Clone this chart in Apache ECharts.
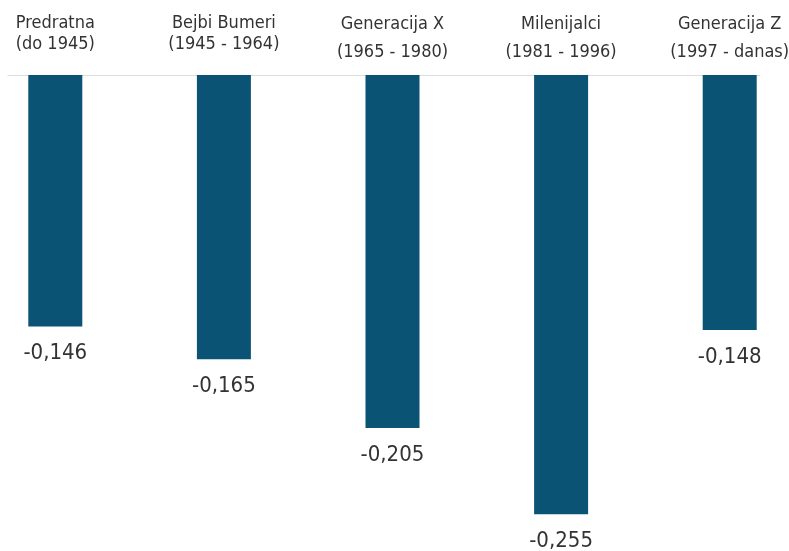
<!DOCTYPE html>
<html>
<head>
<meta charset="utf-8">
<script src="https://cdn.jsdelivr.net/npm/echarts@6/dist/echarts.min.js"></script>
<style>html,body{margin:0;padding:0;background:#fff}#c{width:789px;height:551px}</style>
</head>
<body>
<div id="c"></div>
<script>
const categories = ['Predratna\n(do 1945)', 'Bejbi Bumeri\n(1945 - 1964)', 'Generacija X\n(1965 - 1980)', 'Milenijalci\n(1981 - 1996)', 'Generacija Z\n(1997 - danas)'];
const values = [-0.146, -0.165, -0.205, -0.255, -0.148];
const labelLineHeights = [21, 21, 28, 28, 28];

const FONT = "'DejaVu Sans Condensed', 'Liberation Sans Narrow', sans-serif";
const chart = echarts.init(document.getElementById('c'), null, {renderer: 'canvas'});
chart.setOption({
  animation: false,
  backgroundColor: '#ffffff',
  grid: [
    {left: -29, right: -25, top: 75, bottom: 11, containLabel: false, outerBoundsMode: 'none'},
    {left: 8, right: 29, top: 75, bottom: 11, containLabel: false, outerBoundsMode: 'none'}
  ],
  xAxis: [
    {
      type: 'category', gridIndex: 0, position: 'top',
      data: categories.map((c, i) => ({value: c, textStyle: {lineHeight: labelLineHeights[i], padding: [0, 0, labelLineHeights[i] === 28 ? 0 : 11, 0]}})),
      axisLine: {show: false}, axisTick: {show: false},
      axisLabel: {
        interval: 0, fontFamily: FONT, fontSize: 18, color: '#333333',
        margin: 9, align: 'center', hideOverlap: false
      }
    },
    {
      type: 'category', gridIndex: 1, position: 'top', data: categories,
      axisLine: {show: true, lineStyle: {color: '#dddddd', width: 1}},
      axisTick: {show: false}, axisLabel: {show: false}
    }
  ],
  yAxis: [
    {type: 'value', gridIndex: 0, min: -0.27, max: 0, show: false},
    {type: 'value', gridIndex: 1, min: -0.27, max: 0, show: false}
  ],
  series: [{
    type: 'bar', xAxisIndex: 0, yAxisIndex: 0,
    data: values, barWidth: 54,
    itemStyle: {color: '#0b5374'},
    label: {
      show: true, position: 'bottom', distance: 16,
      fontFamily: FONT, fontSize: 22, color: '#333333',
      formatter: p => p.value.toFixed(3).replace('.', ',')
    }
  }]
});
</script>
</body>
</html>
